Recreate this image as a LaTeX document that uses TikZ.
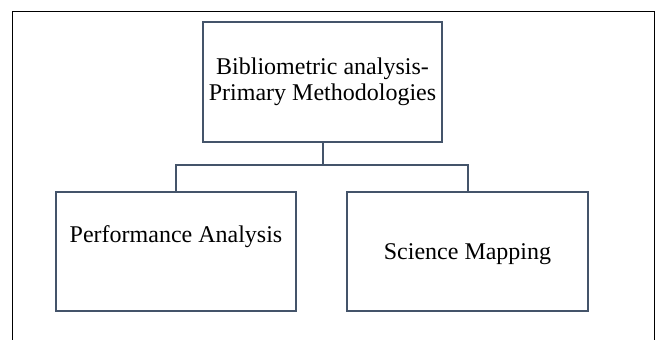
\documentclass[tikz,border=0pt]{standalone}
\usepackage{fontspec}
\setmainfont{Liberation Serif}
\begin{document}
\begin{tikzpicture}[x=1pt,y=-1pt,
  box/.style={draw=boxcol,line width=2.2pt,fill=white,inner sep=0pt},
  conn/.style={draw=boxcol,line width=2pt},
  lbl/.style={anchor=base,inner sep=0pt,font=\fontsize{24}{26}\selectfont,align=center}]
\definecolor{boxcol}{HTML}{44546A}
\useasboundingbox (0,0) rectangle (659,340);
\fill[white] (0,0) rectangle (659,340);
% outer frame (bottom edge runs off the picture)
\draw[black,line width=1pt] (12,341) -- (12,11) -- (654,11) -- (654,341);
% boxes
\node[box,minimum width=239pt,minimum height=120pt] (top) at (322.5,82) {};
\node[box,minimum width=240pt,minimum height=119pt] (left) at (176,251.5) {};
\node[box,minimum width=241pt,minimum height=119pt] (right) at (467.5,251.5) {};
% texts
\node[lbl] (toptxt1) at (322.5,74) {Bibliometric analysis-};
\node[lbl] (toptxt2) at (322.5,100) {Primary Methodologies};
\node[lbl] (lefttxt) at (176,242) {Performance Analysis};
\node[lbl] (righttxt) at (467.5,259) {Science Mapping};
% connectors
\coordinate (hub) at (top.south |- 0,165);
\draw[conn] (top.south) -- (hub);
\draw[conn] (hub) -| (left.north);
\draw[conn] (hub) -| (right.north);
\end{tikzpicture}
\end{document}
